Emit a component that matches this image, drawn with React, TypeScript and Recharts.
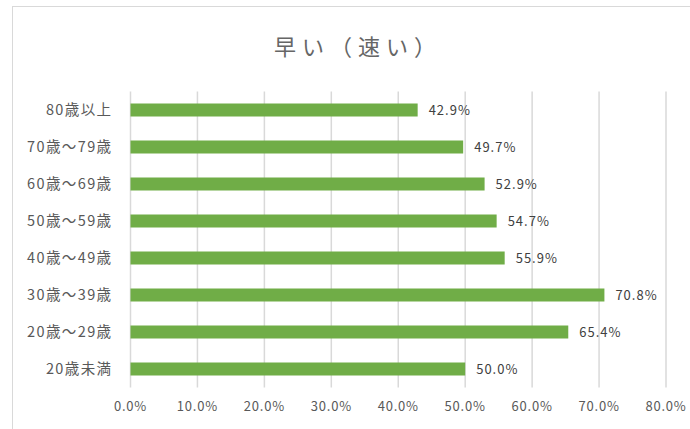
import { Bar, BarChart, CartesianGrid, LabelList, XAxis, YAxis } from "recharts";

const categories = [
  "80歳以上",
  "70歳～79歳",
  "60歳～69歳",
  "50歳～59歳",
  "40歳～49歳",
  "30歳～39歳",
  "20歳～29歳",
  "20歳未満",
];
const values = [0.429, 0.497, 0.529, 0.547, 0.559, 0.708, 0.654, 0.5];
const xTicks = [0, 0.1, 0.2, 0.3, 0.4, 0.5, 0.6, 0.7, 0.8];
const title = "早い（速い）";

const data = categories.map((name, i) => ({ name, value: values[i] }));
const pct = (v: number) => `${(v * 100).toFixed(1)}%`;
const FONT = "'Noto Sans CJK JP', 'Noto Sans', sans-serif";

export default function App() {
  return (
    <div
      style={{
        position: "absolute",
        left: 0,
        top: 0,
        width: 690,
        height: 429,
        background: "#fff",
        overflow: "hidden",
        fontFamily: FONT,
      }}
    >
      <div
        style={{
          position: "absolute",
          left: 12,
          top: 6,
          width: 800,
          height: 600,
          border: "1px solid #d9d9d9",
        }}
      />
      <div
        style={{
          position: "absolute",
          left: 8,
          width: 700,
          top: 30,
          textAlign: "center",
          fontSize: 22,
          letterSpacing: 6,
          color: "#666666",
          lineHeight: "30px",
        }}
      >
        {title}
      </div>
      <div style={{ position: "absolute", left: 0, top: 0 }}>
        <BarChart
          layout="vertical"
          width={690}
          height={429}
          data={data}
          margin={{ top: 91.5, right: 24, bottom: 11.5, left: 10.5 }}
        >
          <CartesianGrid horizontal={false} stroke="#d9d9d9" strokeWidth={1.5} />
          <XAxis
            type="number"
            domain={[0, 0.8]}
            ticks={xTicks}
            tickFormatter={pct}
            axisLine={false}
            tickLine={false}
            height={30}
            tickMargin={8}
            tick={{ fontSize: 13, fill: "#595959", fontFamily: FONT, letterSpacing: 0.8 }}
          />
          <YAxis
            type="category"
            dataKey="name"
            width={120}
            axisLine={false}
            tickLine={false}
            tickMargin={12}
            tick={{ fontSize: 14.5, fill: "#595959", fontFamily: FONT, letterSpacing: 1.4 }}
          />
          <Bar dataKey="value" fill="#70ad47" barSize={13} isAnimationActive={false}>
            <LabelList
              dataKey="value"
              position="right"
              offset={11}
              formatter={(v: any) => pct(Number(v))}
              style={{ fontSize: 13, fill: "#404040", fontFamily: FONT, letterSpacing: 1 }}
            />
          </Bar>
        </BarChart>
      </div>
    </div>
  );
}
